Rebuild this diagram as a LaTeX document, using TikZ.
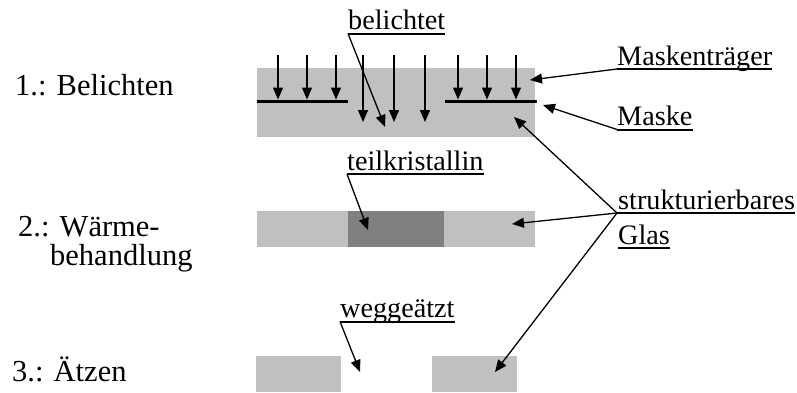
\documentclass[tikz,border=0pt]{standalone}
\usepackage{fontspec}
\setmainfont{Liberation Serif}
\usetikzlibrary{arrows.meta,calc}
\definecolor{glas}{HTML}{C0C0C0}
\definecolor{kristall}{HTML}{808080}
\begin{document}
\begin{tikzpicture}[x=1pt,y=-1pt,
  lab/.style={anchor=base west,inner sep=0pt,font=\fontsize{28.2}{32}\selectfont},
  stagelab/.style={anchor=base west,inner sep=0pt,font=\fontsize{30.5}{34}\selectfont},
  ptr/.style={line width=1.3pt,-{Triangle[length=12pt,width=10pt]}},
  uline/.style={line width=2pt},
  maskline/.style={line width=3pt}]
\useasboundingbox (0,0) rectangle (797,392);
% stage labels
\node[stagelab] (s1) at (15,95) {1.: Belichten};
\node[stagelab] (s2) at (18,236.7) {2.: Wärme-};
\node[stagelab] (s2b) at (50,265) {behandlung};
\node[stagelab] (s3) at (12,381.7) {3.: Ätzen};
% row 1
\fill[glas] (257,68) rectangle (535,137);
\draw[maskline] (257,101) -- (348,101);
\draw[maskline] (445,101) -- (537,101);
\foreach \x in {278,307,336,458,487,516} \draw[ptr] (\x,55) -- (\x,99.5);
\foreach \x in {363,394,425} \draw[ptr] (\x,55) -- (\x,122);
% row 2
\fill[glas] (257,211) rectangle (348,247);
\fill[kristall] (348,211) rectangle (444,247);
\fill[glas] (444,211) rectangle (535,247);
% row 3
\fill[glas] (256,356) rectangle (341,392);
\fill[glas] (432,356) rectangle (517,392);
% targets
\coordinate (tBel) at (385,127);
\coordinate (tTr) at (530,80);
\coordinate (tMa) at (543,105);
\coordinate (tTe) at (368,230);
\coordinate (tWe) at (360,372);
\coordinate (tG1) at (514,117);
\coordinate (tG2) at (512,224);
\coordinate (tG3) at (495,372);
% labels
\node[lab] (bel) at (348,29) {belichtet};
\draw[uline] ($(bel.base west)+(0,4.5)$) coordinate (belU) -- ($(bel.base east)+(0,4.5)$);
\draw[ptr] (belU) -- (tBel);
\node[lab] (tr) at (617,65) {Maskenträger};
\draw[uline] ($(tr.base west)+(0,4)$) coordinate (trU) -- ($(tr.base east)+(0,4)$);
\draw[ptr] (trU) -- (tTr);
\node[lab] (ma) at (617,125.5) {Maske};
\draw[uline] ($(ma.base west)+(0,4)$) coordinate (maU) -- ($(ma.base east)+(0,4)$);
\draw[ptr] (maU) -- (tMa);
\node[lab] (te) at (347,170) {teilkristallin};
\draw[uline] ($(te.base west)+(0,4)$) coordinate (teU) -- ($(te.base east)+(0,4)$);
\draw[ptr] (teU) -- (tTe);
\node[lab] (we) at (340,317.5) {weggeätzt};
\draw[uline] ($(we.base west)+(0,4)$) coordinate (weU) -- ($(we.base east)+(0,4)$);
\draw[ptr] (weU) -- (tWe);
\node[lab] (st) at (618,209.5) {strukturierbares};
\draw[uline] ($(st.base west)+(-1,3.5)$) coordinate (stU) -- ($(st.base east)+(0,3.5)$);
\node[lab] (gl) at (618,244.5) {Glas};
\draw[uline] ($(gl.base west)+(0,3.5)$) -- ($(gl.base east)+(0,3.5)$);
\draw[ptr] (stU) -- (tG1);
\draw[ptr] (stU) -- (tG2);
\draw[ptr] (stU) -- (tG3);
\end{tikzpicture}
\end{document}
